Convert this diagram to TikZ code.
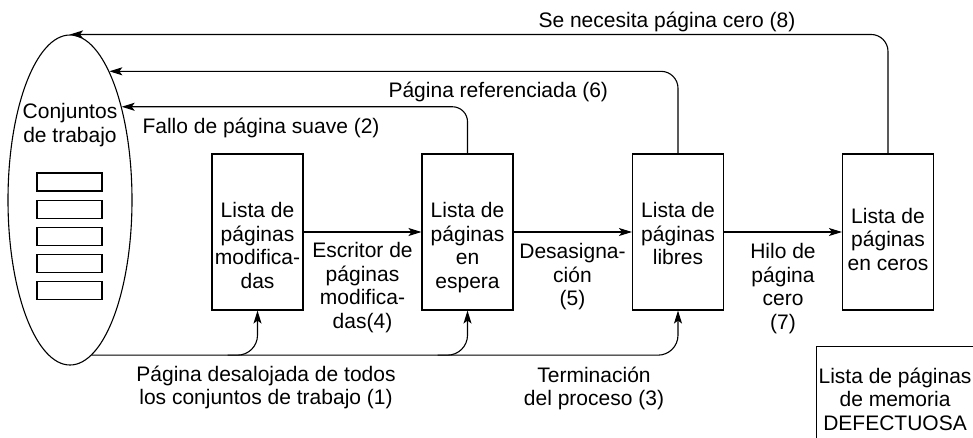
\documentclass[tikz,border=0pt]{standalone}
\usepackage{fontspec}
\setmainfont{Liberation Sans}
\usetikzlibrary{arrows.meta, positioning, calc, shapes.geometric}

\begin{document}
\begin{tikzpicture}[x=1pt, y=-1pt, line width=1.1pt,
    font=\fontsize{21}{23.5}\selectfont,
    lista/.style={draw, minimum width=91pt, minimum height=156pt, inner sep=0pt},
    txt/.style={align=center, inner sep=0pt},
    flecha/.style={-{Stealth[length=13pt,width=8pt,inset=3pt]}}]
  \useasboundingbox (0,0) rectangle (973,437);
  \clip (0,0) rectangle (973,437);

  % ---------- conjuntos de trabajo ----------
  \node[draw, ellipse, minimum width=124pt, minimum height=330pt, inner sep=0pt] (ws) at (70,200) {};
  \node[txt, anchor=north] (wstxt) at (70,103) {Conjuntos\\de trabajo};
  \foreach \i in {0,...,4}{
    \draw (37,{173+27.2*\i}) rectangle ++(65,18);
  }

  % ---------- listas ----------
  \node[lista] (mod)  at (257.5,232) {};
  \node[lista] (stby) at (467.5,232) {};
  \node[lista] (free) at (678,232) {};
  \node[lista] (zero) at (888,232) {};
  \node[txt, below=48.5pt of mod.north] (tmod) {Lista de\\páginas\\modifica-\\das};
  \node[txt, below=48.5pt of stby.north] (tstby) {Lista de\\páginas\\en\\espera};
  \node[txt, below=48.5pt of free.north] (tfree) {Lista de\\páginas\\libres};
  \node[txt, below=54pt of zero.north] (tzero) {Lista de\\páginas\\en ceros};

  % ---------- flechas entre listas ----------
  \draw[flecha] (mod) -- (stby);
  \draw[flecha] (stby) -- (free);
  \draw[flecha] (free) -- (zero);
  \node[txt, anchor=north] (l4) at (362.5,242) {Escritor de\\páginas\\modifica-\\das(4)};
  \node[txt, anchor=north] (l5) at (572.5,243) {Desasigna-\\ción\\(5)};
  \node[txt, anchor=north] (l7) at (783,243) {Hilo de\\página\\cero\\(7)};

  % ---------- flechas de vuelta ----------
  \draw[flecha, rounded corners=15pt] (stby.north) |- (ws.61);
  \draw[flecha, rounded corners=17pt] (free.north) |- (ws.73);
  \draw[flecha, rounded corners=17pt] (zero.north) |- (ws.north);
  \node[anchor=base west, inner sep=0pt] (l2) at (142,133) {Fallo de página suave (2)};
  \node[anchor=base west, inner sep=0pt] (l6) at (388,97) {Página referenciada (6)};
  \node[anchor=base west, inner sep=0pt] (l8) at (538,27) {Se necesita página cero (8)};

  % ---------- flechas inferiores ----------
  \coordinate (base) at (ws.278);
  \draw[flecha, rounded corners=20pt] (base) -| (free.south);
  \draw[flecha, rounded corners=20pt] ($(mod.south |- base)+(-30,0)$) -| (mod.south);
  \draw[flecha, rounded corners=20pt] ($(stby.south |- base)+(-30,0)$) -| (stby.south);
  \node[txt, anchor=north] (l1) at (266,365) {Página desalojada de todos\\los conjuntos de trabajo (1)};
  \node[txt, anchor=north] (l3) at (594,366) {Terminación\\del proceso (3)};

  % ---------- memoria defectuosa ----------
  \node[draw, anchor=north west, minimum width=164pt, minimum height=130pt] (bad) at (816,346) {};
  \node[txt, below=21pt of bad.north, xshift=-3.5pt] (tbad) {Lista de páginas\\de memoria\\DEFECTUOSA};
\end{tikzpicture}
\end{document}
